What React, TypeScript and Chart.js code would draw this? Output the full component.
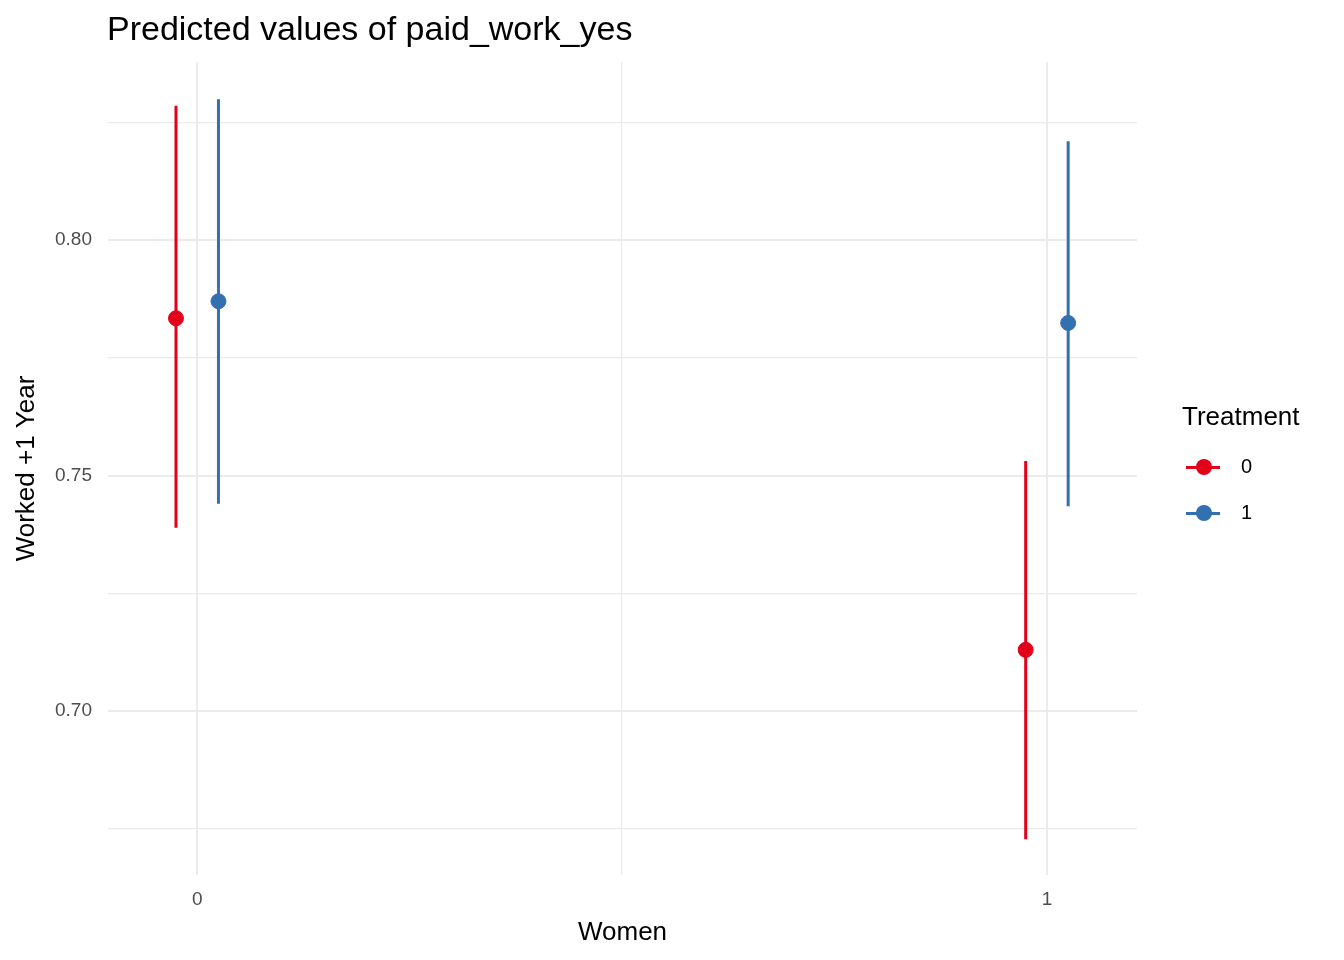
import { useEffect, useRef } from 'react';
import Chart from 'chart.js/auto';

const groups = [0, 1];
const treatments = ['0', '1'];
const dodge = 0.025;
const est0 = [0.7834, 0.713];
const lo0 = [0.7389, 0.6728];
const hi0 = [0.8285, 0.7531];
const est1 = [0.787, 0.7824];
const lo1 = [0.744, 0.7435];
const hi1 = [0.8299, 0.821];
const yTicks = [0.675, 0.7, 0.725, 0.75, 0.775, 0.8, 0.825];
const yMajor = [0.7, 0.75, 0.8];
const xTicks = [0, 0.5, 1];
const colors = ['#e2001a', '#3370b0'];

const FONT = '"Liberation Sans", Arial, sans-serif';

const App = () => {
    const canvas = useRef<HTMLCanvasElement>(null);

    useEffect(() => {
        const series = [
            { est: est0, lo: lo0, hi: hi0 },
            { est: est1, lo: lo1, hi: hi1 }
        ];
        const datasets: any[] = [];
        series.forEach((s, t) => {
            const off = t === 0 ? -dodge : dodge;
            groups.forEach((g, i) => {
                datasets.push({
                    label: treatments[t],
                    data: [{ x: g + off, y: s.lo[i] }, { x: g + off, y: s.hi[i] }],
                    showLine: true,
                    borderColor: colors[t],
                    borderWidth: 3,
                    pointRadius: 0
                });
            });
            datasets.push({
                label: treatments[t],
                data: groups.map((g, i) => ({ x: g + off, y: s.est[i] })),
                backgroundColor: colors[t],
                borderColor: colors[t],
                pointRadius: 7.5,
                showLine: false
            });
        });

        const chart = new Chart(
            // @ts-expect-error next
            canvas.current,
            {
                type: 'scatter',
                data: { datasets },
                options: {
                    animation: false,
                    responsive: false,
                    layout: { padding: { left: 0, top: 62, right: 207, bottom: 0 } },
                    plugins: { legend: { display: false }, tooltip: { enabled: false } },
                    scales: {
                        x: {
                            type: 'linear',
                            min: -0.105,
                            max: 1.106,
                            afterBuildTicks: (scale: any) => { scale.ticks = xTicks.map(v => ({ value: v })); },
                            afterFit: (scale: any) => { scale.height = 85; },
                            border: { display: false },
                            grid: {
                                drawTicks: false,
                                color: '#ebebeb',
                                lineWidth: (ctx: any) => (ctx.tick && ctx.tick.value === 0.5 ? 1.2 : 2)
                            },
                            ticks: {
                                padding: 13,
                                color: '#4d4d4d',
                                font: { family: FONT, size: 19 },
                                callback: (v: any) => (v === 0.5 ? '' : String(v))
                            },
                            title: {
                                display: true,
                                text: 'Women',
                                color: '#000',
                                font: { family: FONT, size: 26 },
                                padding: { top: 12, bottom: 12 }
                            }
                        },
                        y: {
                            min: 0.6652,
                            max: 0.8378,
                            afterBuildTicks: (scale: any) => { scale.ticks = yTicks.map(v => ({ value: v })); },
                            afterFit: (scale: any) => { scale.width = 108; },
                            border: { display: false },
                            grid: {
                                drawTicks: false,
                                color: '#ebebeb',
                                lineWidth: (ctx: any) =>
                                    ctx.tick && yMajor.some(m => Math.abs(m - ctx.tick.value) < 1e-6) ? 2 : 1.2
                            },
                            ticks: {
                                padding: 16,
                                color: '#4d4d4d',
                                font: { family: FONT, size: 19 },
                                callback: (v: any) =>
                                    yMajor.some(m => Math.abs(m - v) < 1e-6) ? Number(v).toFixed(2) : ''
                            },
                            title: {
                                display: true,
                                text: 'Worked +1 Year',
                                color: '#000',
                                font: { family: FONT, size: 26 },
                                padding: { top: 11, bottom: 11 }
                            }
                        }
                    }
                }
            }
        );

        return () => {
            chart.destroy();
        };
    }, []);

    return (
        <div style={{ position: 'fixed', left: 0, top: 0, width: 1344, height: 960, background: '#fff', fontFamily: FONT }}>
            <canvas ref={canvas} width={1344} height={960} style={{ position: 'absolute', left: 0, top: 0 }} />
            <div style={{ position: 'absolute', left: 107, top: 9, fontSize: 34, color: '#000' }}>
                Predicted values of paid_work_yes
            </div>
            <div style={{ position: 'absolute', left: 1182, top: 401, fontSize: 26 }}>Treatment</div>
            {treatments.map((t, i) => (
                <div key={t} style={{ position: 'absolute', left: 1186, top: 455 + i * 46, height: 24, width: 120 }}>
                    <div style={{ position: 'absolute', left: 0, top: 11, width: 34, height: 3, background: colors[i] }} />
                    <div style={{ position: 'absolute', left: 10, top: 4, width: 16, height: 16, borderRadius: 8, background: colors[i] }} />
                    <div style={{ position: 'absolute', left: 55, top: 0, fontSize: 20 }}>{t}</div>
                </div>
            ))}
        </div>
    );
};

export default App;
